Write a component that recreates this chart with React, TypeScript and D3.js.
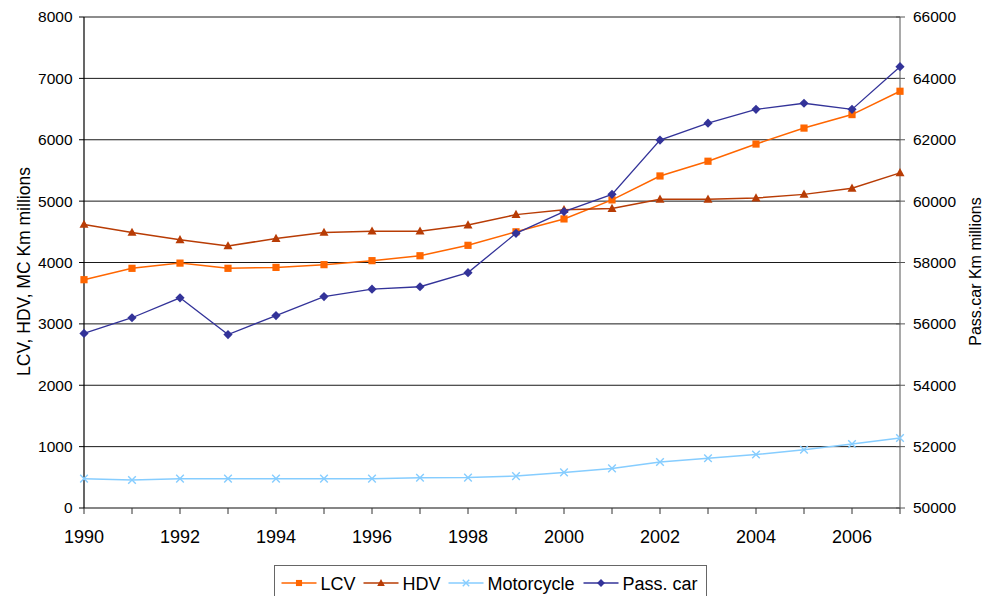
import React from "react";
import * as d3 from "d3";

// Road traffic volume, 1990–2007
const years = [1990, 1991, 1992, 1993, 1994, 1995, 1996, 1997, 1998, 1999, 2000, 2001, 2002, 2003, 2004, 2005, 2006, 2007];
const lcv = [3720, 3905, 3990, 3905, 3920, 3965, 4030, 4110, 4280, 4500, 4710, 5020, 5410, 5650, 5930, 6190, 6410, 6790];
const hdv = [4620, 4490, 4370, 4270, 4390, 4490, 4510, 4510, 4610, 4780, 4860, 4880, 5030, 5030, 5050, 5110, 5210, 5460];
const motorcycle = [478, 456, 478, 478, 478, 478, 478, 494, 495, 520, 580, 645, 750, 810, 872, 950, 1042, 1140];
const passCar = [55690, 56200, 56850, 55650, 56270, 56890, 57130, 57210, 57670, 58950, 59660, 60220, 61990, 62540, 62990, 63190, 62990, 64380];

const leftTicks = [0, 1000, 2000, 3000, 4000, 5000, 6000, 7000, 8000];
const rightTicks = [50000, 52000, 54000, 56000, 58000, 60000, 62000, 64000, 66000];
const labelYears = [1990, 1992, 1994, 1996, 1998, 2000, 2002, 2004, 2006];

const legendNames = ["LCV", "HDV", "Motorcycle", "Pass. car"];

const FONT = "'Liberation Sans', Arial, sans-serif";
const COLORS = { lcv: "#FF6600", hdv: "#B83C05", mc: "#86CDFF", car: "#333399" };

type MarkerKind = "square" | "triangle" | "cross" | "diamond";

function Marker({ kind, x, y, color, s = 1 }: { kind: MarkerKind; x: number; y: number; color: string; s?: number }) {
  if (kind === "square") {
    const h = 3.6 * s;
    return <rect x={x - h} y={y - h} width={2 * h} height={2 * h} fill={color} />;
  }
  if (kind === "triangle") {
    const w = 4.5 * s;
    return <path d={`M${x},${y - 4.8 * s}L${x + w},${y + 3.4 * s}L${x - w},${y + 3.4 * s}Z`} fill={color} />;
  }
  if (kind === "diamond") {
    const r = 4.6 * s;
    return <path d={`M${x},${y - r}L${x + r},${y}L${x},${y + r}L${x - r},${y}Z`} fill={color} />;
  }
  const r = 3.8 * s;
  return (
    <path
      d={`M${x - r},${y - r}L${x + r},${y + r}M${x - r},${y + r}L${x + r},${y - r}`}
      stroke={color}
      strokeWidth={1.4}
      fill="none"
    />
  );
}

export default function App() {
  const W = 984;
  const H = 596;
  const left = 84;
  const right = 900;
  const top = 17;
  const bottom = 508;

  const x = d3.scaleLinear().domain([1990, 2007]).range([left, right]);
  const yL = d3.scaleLinear().domain([0, 8000]).range([bottom, top]);
  const yR = d3.scaleLinear().domain([50000, 66000]).range([bottom, top]);

  const mk = (vals: number[], scale: d3.ScaleLinear<number, number>) =>
    d3
      .line<number>()
      .x((_, i) => x(years[i]))
      .y((v) => scale(v))(vals) || "";

  const series = [
    { vals: lcv, scale: yL, color: COLORS.lcv, kind: "square" as MarkerKind, w: 1.5 },
    { vals: hdv, scale: yL, color: COLORS.hdv, kind: "triangle" as MarkerKind, w: 1.5 },
    { vals: motorcycle, scale: yL, color: COLORS.mc, kind: "cross" as MarkerKind, w: 1.5 },
    { vals: passCar, scale: yR, color: COLORS.car, kind: "diamond" as MarkerKind, w: 1.3 },
  ];

  const legendItems = [
    { lineX: 281.5, textX: 320.5, color: COLORS.lcv, kind: "square" as MarkerKind },
    { lineX: 363.5, textX: 402.5, color: COLORS.hdv, kind: "triangle" as MarkerKind },
    { lineX: 448.5, textX: 487.5, color: COLORS.mc, kind: "cross" as MarkerKind },
    { lineX: 583.5, textX: 622.5, color: COLORS.car, kind: "diamond" as MarkerKind },
  ];

  return (
    <svg
      width={W}
      height={H}
      style={{ position: "absolute", left: 0, top: 0, background: "#fff" }}
      fontFamily={FONT}
    >
      {/* horizontal gridlines */}
      {leftTicks.map((t) => (
        <line key={"g" + t} x1={left} x2={right} y1={yL(t)} y2={yL(t)} stroke="#1a1a1a" strokeWidth={1} />
      ))}

      {/* bottom axis */}
      <line x1={left} x2={right} y1={bottom} y2={bottom} stroke="#808080" strokeWidth={1.2} />
      {years.map((yr) => (
        <line key={"xt" + yr} x1={x(yr)} x2={x(yr)} y1={bottom} y2={bottom + 6} stroke="#333" strokeWidth={1} />
      ))}
      {labelYears.map((yr) => (
        <text key={"xl" + yr} x={x(yr)} y={543} textAnchor="middle" fontSize={18} fill="#000">
          {yr}
        </text>
      ))}

      {/* left axis */}
      <line x1={left} x2={left} y1={top} y2={bottom} stroke="#000" strokeWidth={1.2} />
      {leftTicks.map((t) => (
        <g key={"lt" + t}>
          <line x1={left - 5} x2={left} y1={yL(t)} y2={yL(t)} stroke="#000" strokeWidth={1} />
          <text x={72.5} y={yL(t)} dy="0.35em" textAnchor="end" fontSize={15.5} fill="#000">
            {t}
          </text>
        </g>
      ))}

      {/* right axis */}
      <line x1={right} x2={right} y1={top} y2={bottom} stroke="#707070" strokeWidth={1.2} />
      {rightTicks.map((t) => (
        <g key={"rt" + t}>
          <line x1={right - 4} x2={right + 5} y1={yR(t)} y2={yR(t)} stroke="#555" strokeWidth={1} />
          <text x={913} y={yR(t)} dy="0.35em" textAnchor="start" fontSize={15.5} fill="#000">
            {t}
          </text>
        </g>
      ))}

      {/* axis titles */}
      <text
        transform="translate(30,271.5) rotate(-90)"
        textAnchor="middle"
        fontSize={17.5}
        fill="#000"
      >
        LCV, HDV, MC Km millions
      </text>
      <text
        transform="translate(981,271.5) rotate(-90)"
        textAnchor="middle"
        fontSize={16}
        fill="#000"
      >
        Pass.car Km millions
      </text>

      {/* series */}
      {series.map((s, si) => (
        <g key={"s" + si}>
          <path d={mk(s.vals, s.scale)} fill="none" stroke={s.color} strokeWidth={s.w} />
          {s.vals.map((v, i) => (
            <Marker key={i} kind={s.kind} x={x(years[i])} y={s.scale(v)} color={s.color} />
          ))}
        </g>
      ))}

      {/* legend */}
      <rect x={274.5} y={565.5} width={432} height={40} fill="#fff" stroke="#666" strokeWidth={1} />
      {legendItems.map((it, i) => (
        <g key={"lg" + i}>
          <line x1={it.lineX} x2={it.lineX + 35} y1={583} y2={583} stroke={it.color} strokeWidth={1.5} />
          <Marker kind={it.kind} x={it.lineX + 17.5} y={583} color={it.color} s={0.85} />
          <text x={it.textX} y={589.5} fontSize={18} fill="#000">
            {legendNames[i]}
          </text>
        </g>
      ))}
    </svg>
  );
}
